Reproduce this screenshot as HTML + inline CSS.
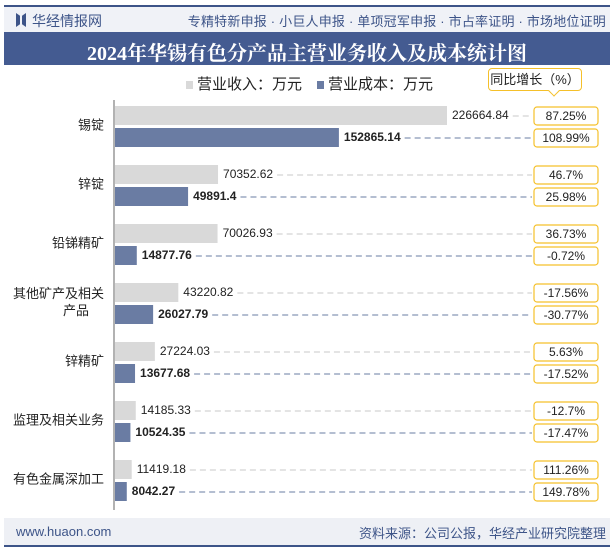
<!DOCTYPE html>
<html><head><meta charset="utf-8"><style>
body{margin:0;width:614px;height:550px;background:#fff;font-family:"Liberation Sans","Noto Sans CJK SC",sans-serif;position:relative;overflow:hidden}
.a{position:absolute}
</style></head><body>
<div class="a" style="left:4px;top:5px;width:606px;height:2px;background:#3d5488"></div>
<div class="a" style="left:4px;top:7px;width:606px;height:25px;background:#f0f2f7"></div>
<div class="a" style="left:16px;top:13px;width:10px;height:14px;background:#3d5488;clip-path:polygon(0 0,40% 20%,40% 80%,0 100%,0 0,100% 0,100% 100%,60% 80%,60% 20%,100% 0)"></div>
<div class="a" style="left:32px;top:11px;font-size:14px;color:#3d5488">华经情报网</div>
<div class="a" style="right:8px;top:11px;font-size:13px;color:#3d5488;letter-spacing:0.2px">专精特新申报 · 小巨人申报 · 单项冠军申报 · 市占率证明 · 市场地位证明</div>
<div class="a" style="left:4px;top:32px;width:606px;height:33px;background:#445b91"></div>
<div class="a" style="left:4px;top:37px;width:606px;text-align:center;font-size:20px;font-weight:bold;color:#fff;font-family:'Liberation Serif','Noto Serif CJK SC',serif">2024年华锡有色分产品主营业务收入及成本统计图</div>
<div class="a" style="left:186px;top:73px;font-size:15px;color:#222;white-space:nowrap"><span style="display:inline-block;width:7px;height:8px;background:#d9d9d9;margin-right:4px"></span>营业收入：万元</div>
<div class="a" style="left:317px;top:73px;font-size:15px;color:#222;white-space:nowrap"><span style="display:inline-block;width:7px;height:8px;background:#6a7ca3;margin-right:4px"></span>营业成本：万元</div>
<div class="a" style="left:488px;top:68px;width:92px;height:21px;border:1.5px solid #f5c02a;border-radius:4px;background:#fff;font-size:13px;color:#222;text-align:center;line-height:21px">同比增长（%）</div>
<div class="a" style="left:550px;top:87px;width:7px;height:7px;border-right:1.5px solid #f5c02a;border-bottom:1.5px solid #f5c02a;background:#fff;transform:rotate(45deg)"></div>
<svg class="a" style="left:0;top:0" width="614" height="550" id="chart"></svg>
<div class="a" style="left:4px;top:518px;width:606px;height:27px;background:#eef0f5"></div>
<div class="a" style="left:16px;top:524px;font-size:13px;color:#3d5488">www.huaon.com</div>
<div class="a" style="right:8px;top:523px;font-size:13px;color:#3d5488">资料来源：公司公报，华经产业研究院整理</div>
<div class="a" style="left:4px;top:545px;width:606px;height:2px;background:#3d5488"></div>
<script>
const categories=["锡锭","锌锭","铅锑精矿","其他矿产及相关\n产品","锌精矿","监理及相关业务","有色金属深加工"];
const revenue=[226664.84,70352.62,70026.93,43220.82,27224.03,14185.33,11419.18];
const cost=[152865.14,49891.4,14877.76,26027.79,13677.68,10524.35,8042.27];
const revGrowth=["87.25%","46.7%","36.73%","-17.56%","5.63%","-12.7%","111.26%"];
const costGrowth=["108.99%","25.98%","-0.72%","-30.77%","-17.52%","-17.47%","149.78%"];
const svg=document.getElementById('chart');const NS='http://www.w3.org/2000/svg';
const x0=115,maxV=226664.84,maxW=332;
const xs=v=>v/maxV*maxW;
const rowTop=i=>106+59*i;
function mk(t,a){const e=document.createElementNS(NS,t);for(const k in a)e.setAttribute(k,a[k]);svg.appendChild(e);return e;}
const ax=mk('line',{x1:114,y1:100,x2:114,y2:510,stroke:'#666','stroke-width':1});


function label(txt,x,y,bold,name){const t=mk('text',{x:x,y:y,'font-size':12,fill:'#222','font-weight':bold?'bold':'normal','dominant-baseline':'middle','font-family':'Liberation Sans, sans-serif'});t.textContent=txt;


return t;}
function box(txt,y,name){const r=mk('rect',{x:534,y:y-9,width:64,height:18,rx:3,fill:'#fff',stroke:'#f5c02a','stroke-width':1.2});


const t=mk('text',{x:566,y:y+1,'font-size':12,fill:'#222','text-anchor':'middle','dominant-baseline':'middle','font-family':'Liberation Sans, sans-serif'});t.textContent=txt;

}
categories.forEach((c,i)=>{
 const ty=rowTop(i),cy=ty+22;
 const rb=mk('rect',{x:x0,y:ty,width:xs(revenue[i]),height:19,fill:'#d9d9d9'});
 
 
 const cb=mk('rect',{x:x0,y:cy,width:xs(cost[i]),height:19,fill:'#6a7ca3'});
 
 
 const rx=x0+xs(revenue[i])+5,cx=x0+xs(cost[i])+5;
 const rt=label(String(revenue[i]),rx,ty+10,false,'revenue-value-'+i);
 const ct=label(String(cost[i]),cx,cy+10,true,'cost-value-'+i);
 const rw=rt.getComputedTextLength(),cw=ct.getComputedTextLength();
 const l1=mk('line',{x1:rx+rw+4,y1:ty+10,x2:532,y2:ty+10,stroke:'#c8c8c8','stroke-dasharray':'6,4'});
 
 
 const l2=mk('line',{x1:cx+cw+4,y1:cy+10,x2:532,y2:cy+10,stroke:'#6a7ca3','stroke-dasharray':'6,4'});
 
 
 box(revGrowth[i],ty+10,'revenue-growth-'+i);
 box(costGrowth[i],cy+10,'cost-growth-'+i);
 const lines=c.split('\n');const mid=ty+20;
 lines.forEach((ln,j)=>{const t=mk('text',{x:lines.length>1&&j==1?76:104,y:mid+(j-(lines.length-1)/2)*17,'font-size':13,fill:'#222','text-anchor':lines.length>1&&j==1?'middle':'end','dominant-baseline':'middle','font-family':'Liberation Sans, Noto Sans CJK SC, sans-serif'});t.textContent=ln;
 
 });
});
</script>
</body></html>
